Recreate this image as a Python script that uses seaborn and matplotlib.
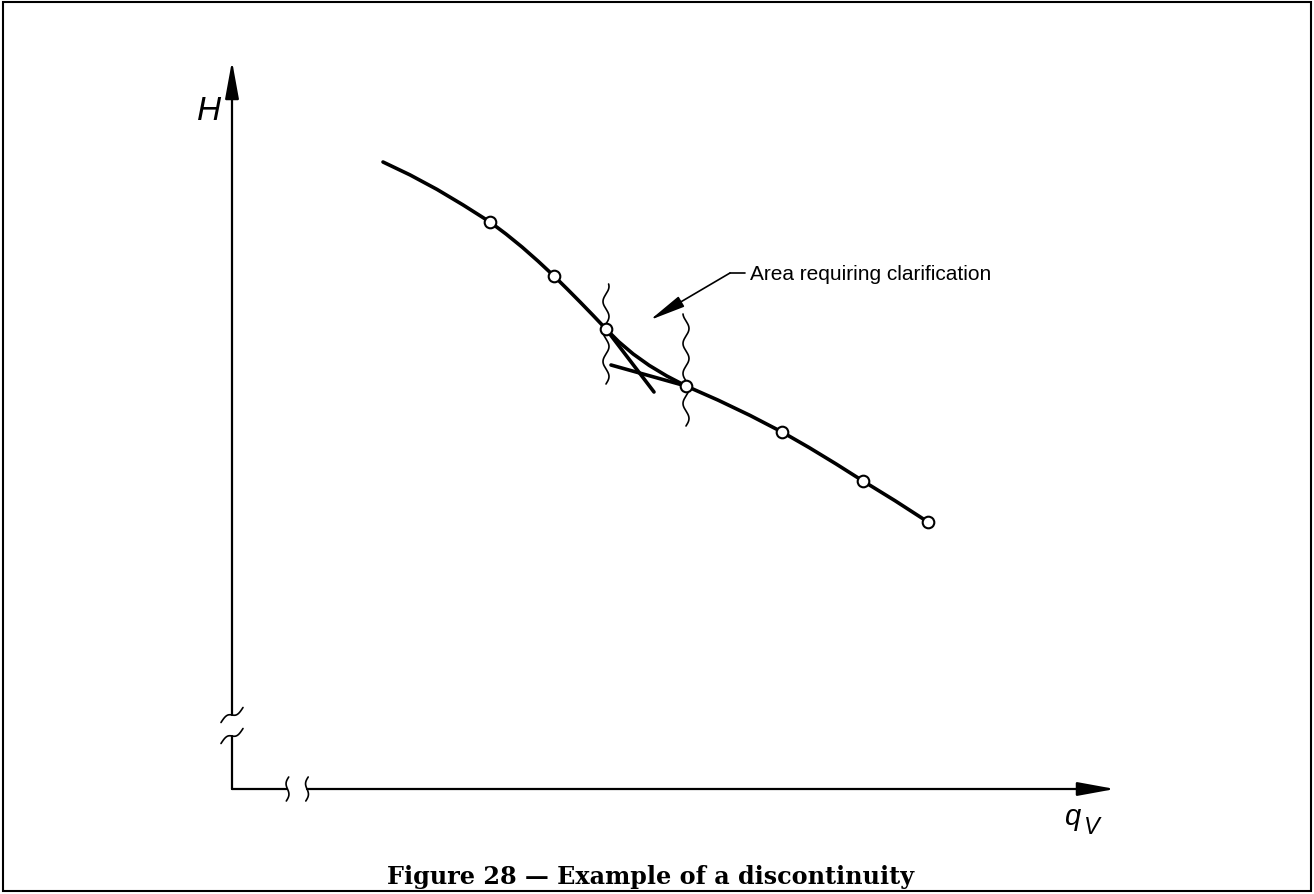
import numpy as np
import pandas as pd
import matplotlib.pyplot as plt
import seaborn as sns
from matplotlib.patches import Rectangle

# schematic units: origin at the axis corner
curve_x = [1.51, 1.78, 2.05, 2.31, 2.58, 2.74, 2.90, 3.06, 3.22, 3.35, 3.48, 3.61,
           3.74, 3.868, 4.012, 4.172, 4.348, 4.54, 4.86, 5.18, 5.50, 5.77, 6.04,
           6.31, 6.63, 6.96]
curve_y = [6.270, 6.141, 5.996, 5.841, 5.670, 5.550, 5.420, 5.279, 5.130, 5.002,
           4.871, 4.737, 4.600, 4.472, 4.350, 4.236, 4.130, 4.030, 3.889, 3.736,
           3.570, 3.415, 3.251, 3.080, 2.883, 2.670]

# measured points
meas_x = [2.58, 3.22, 3.74, 4.54, 5.50, 6.31, 6.96]
meas_y = [5.67, 5.13, 4.60, 4.03, 3.57, 3.08, 2.67]

# straight extensions of the two branches
ext1_x = [3.74, 4.22]
ext1_y = [4.60, 3.97]
ext2_x = [3.79, 4.54]
ext2_y = [4.24, 4.03]

# wavy limit lines (x, y bottom, y top)
waves = [(3.74, 4.05, 5.05), (4.54, 3.63, 4.75)]

note_text = "Area requiring clarification"
note_tip = (4.18, 4.69)
note_pos = (5.18, 5.15)

caption = "Figure 28 \u2014 Example of a discontinuity"

sns.set_theme(style="white")
plt.rcParams['font.family'] = ['Liberation Sans', 'DejaVu Sans']
plt.rcParams['text.color'] = 'black'

fig = plt.figure(figsize=(13.14, 8.95), dpi=100)
ax = fig.add_axes([0, 0, 1, 1])
ax.set_xlim(-2.32, 10.82)
ax.set_ylim(-1.05, 7.90)
ax.axis("off")

df = pd.DataFrame({"q": curve_x, "H": curve_y})
sns.lineplot(data=df, x="q", y="H", sort=False, estimator=None,
             color="black", lw=2.6, ax=ax)
sns.lineplot(x=ext1_x, y=ext1_y, sort=False, estimator=None, color="black", lw=2.6, ax=ax)
sns.lineplot(x=ext2_x, y=ext2_y, sort=False, estimator=None, color="black", lw=2.6, ax=ax)
sns.scatterplot(x=meas_x, y=meas_y, s=70, color="white", edgecolor="black",
                linewidth=1.5, zorder=5, ax=ax)

# wavy lines
t = np.linspace(0, 1, 300)
for xc, y0, y1 in waves:
    n = (y1 - y0) / 0.30
    ax.plot(xc + 0.03 * np.sin(2 * np.pi * n * t), y0 + (y1 - y0) * t,
            color="black", lw=1.2)

# axes with arrows
arrow = dict(arrowstyle="-|>,head_length=2.3,head_width=0.42", lw=1.6,
             color="black", mutation_scale=10, shrinkA=0, shrinkB=0)
ax.annotate("", xy=(0, 7.28), xytext=(0, 0.74), arrowprops=arrow)
ax.annotate("", xy=(8.83, 0), xytext=(0.75, 0), arrowprops=arrow)
ax.plot([0, 0], [0, 0.53], color="black", lw=1.6)
ax.plot([0, 0.55], [0, 0], color="black", lw=1.6)

# break marks
s = np.linspace(-1, 1, 60)
for yc in (0.74, 0.53):
    ax.plot(0.11 * s, yc + 0.075 * s - 0.03 * np.sin(np.pi * s), color="black", lw=1.2)
for xc in (0.555, 0.75):
    ax.plot(xc + 0.012 * s - 0.02 * np.sin(np.pi * s), 0.12 * s, color="black", lw=1.2)

# annotation
ax.annotate("", xy=note_tip, xytext=(4.98, 5.16),
            arrowprops=dict(arrowstyle="-|>,head_length=2.2,head_width=0.36",
                            lw=1.2, color="black", mutation_scale=10,
                            shrinkA=0, shrinkB=0))
ax.plot([4.98, 5.13], [5.16, 5.16], color="black", lw=1.2)
ax.text(note_pos[0], note_pos[1], note_text, fontsize=15, va="center", ha="left")

# axis labels
ax.text(-0.23, 6.79, "H", fontsize=24, style="italic", ha="center", va="center")
ax.text(8.40, -0.27, "q", fontsize=21, style="italic", ha="center", va="center")
ax.text(8.60, -0.38, "V", fontsize=17, style="italic", ha="center", va="center")

fig.text(651 / 1314, 11 / 895, caption, ha="center", va="baseline",
         fontsize=17.2, weight="bold", family="DejaVu Serif")

fig.patches.append(Rectangle((3 / 1314, 3 / 895), 1308 / 1314, 889 / 895,
                             transform=fig.transFigure, fill=False,
                             edgecolor="black", lw=1.5))

fig.savefig("out.png", dpi=100)
